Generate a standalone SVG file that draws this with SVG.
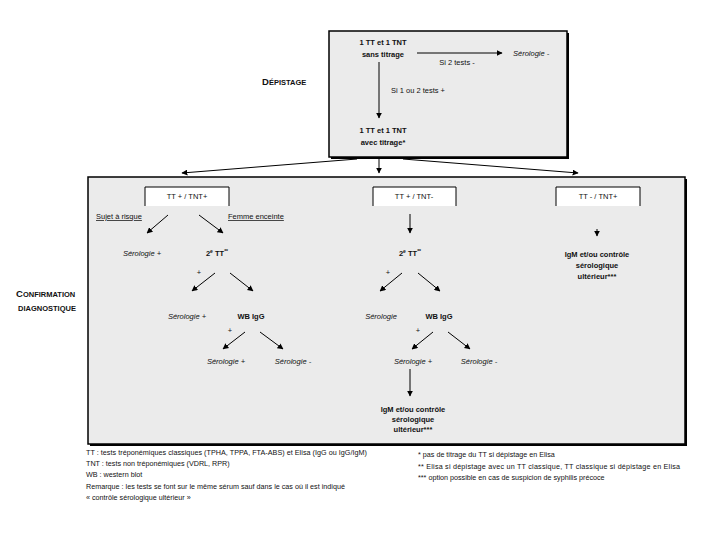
<svg xmlns="http://www.w3.org/2000/svg" width="720" height="540" viewBox="0 0 720 540">
<style>
text{font-family:"Liberation Sans",Arial,sans-serif;font-size:7.5px;fill:#111}
.b{font-weight:bold}
.i{font-style:italic}
.m{text-anchor:middle}
.u{text-decoration:underline}
.sc{font-weight:bold;font-size:7.5px}
.big{font-size:9.5px}
.fn{font-size:7.2px}
.ln{stroke:#000;stroke-width:1;fill:none}
.panel{fill:#ebebeb;stroke:#000;stroke-width:1.5}
.shadow{fill:#000}
</style>
<defs>
<marker id="ah" viewBox="0 0 10 10" refX="9" refY="5" markerWidth="6" markerHeight="6" markerUnits="userSpaceOnUse" orient="auto">
<path d="M0,0 L10,5 L0,10 z" fill="#000"/>
</marker>
</defs>
<rect width="720" height="540" fill="#fff"/>

<g id="depistage-label">
<text x="262" y="85" class="sc"><tspan class="big">D</tspan>ÉPISTAGE</text>
</g>
<g id="confirmation-label">
<text x="16" y="297" class="sc"><tspan class="big">C</tspan>ONFIRMATION</text>
<text x="18" y="311" class="sc">DIAGNOSTIQUE</text>
</g>

<g id="screening-box">
<rect x="331" y="33" width="238" height="126" class="shadow"/>
<rect x="329" y="31" width="238" height="126" class="panel"/>
</g>

<g id="confirmation-box">
<rect x="90" y="179" width="597" height="267" class="shadow"/>
<rect x="88" y="177" width="597" height="267" class="panel"/>
</g>

<g id="node-sans-titrage">
<text x="383" y="45" class="b m">1 TT et 1 TNT</text>
<text x="383" y="57" class="b m">sans titrage</text>
</g>
<g id="node-serologie-neg-top">
<text x="513" y="56" class="i">Sérologie -</text>
</g>
<g id="node-avec-titrage">
<text x="383" y="133" class="b m">1 TT et 1 TNT</text>
<text x="383" y="145" class="b m">avec titrage*</text>
</g>

<g id="node-tt-pos-tnt-pos">
<rect x="145" y="187" width="84" height="19" fill="#fff"/>
<path d="M145,206 V187 H229 V206" class="ln"/>
<text x="187" y="199" class="m">TT + / TNT+</text>
</g>
<g id="node-tt-pos-tnt-neg">
<rect x="373" y="187" width="83" height="19" fill="#fff"/>
<path d="M373,206 V187 H456 V206" class="ln"/>
<text x="414" y="199" class="m">TT + / TNT-</text>
</g>
<g id="node-tt-neg-tnt-pos">
<rect x="556" y="187" width="84" height="19" fill="#fff"/>
<path d="M556,206 V187 H640 V206" class="ln"/>
<text x="598" y="199" class="m">TT - / TNT+</text>
</g>

<g id="labels-left">
<text x="96" y="219" class="u">Sujet à risque</text>
<text x="228" y="219" class="u">Femme enceinte</text>
</g>
<g id="node-l-sero-pos">
<text x="142" y="256" class="i m">Sérologie +</text>
</g>
<g id="node-l-2tt">
<text x="217" y="256" class="b m">2<tspan font-size="5" dy="-3">e</tspan><tspan dy="3"> TT</tspan><tspan font-size="5" dy="-3">**</tspan></text>
</g>
<g id="node-l-sero-pos2">
<text x="187" y="319" class="i m">Sérologie +</text>
</g>
<g id="node-l-wb">
<text x="251" y="319" class="b m">WB IgG</text>
</g>
<g id="node-l-sero-pos3">
<text x="226" y="364" class="i m">Sérologie +</text>
</g>
<g id="node-l-sero-neg3">
<text x="293" y="364" class="i m">Sérologie -</text>
</g>

<g id="node-m-2tt">
<text x="410" y="256" class="b m">2<tspan font-size="5" dy="-3">e</tspan><tspan dy="3"> TT</tspan><tspan font-size="5" dy="-3">**</tspan></text>
</g>
<g id="node-m-sero">
<text x="381" y="319" class="i m">Sérologie</text>
</g>
<g id="node-m-wb">
<text x="439" y="319" class="b m">WB IgG</text>
</g>
<g id="node-m-sero-pos">
<text x="413" y="364" class="i m">Sérologie +</text>
</g>
<g id="node-m-sero-neg">
<text x="479" y="364" class="i m">Sérologie -</text>
</g>
<g id="node-m-igm">
<text x="413" y="412" class="b m">IgM et/ou contrôle</text>
<text x="413" y="422" class="b m">sérologique</text>
<text x="413" y="432" class="b m">ultérieur***</text>
</g>

<g id="node-r-igm">
<text x="597" y="257" class="b m">IgM et/ou contrôle</text>
<text x="597" y="268" class="b m">sérologique</text>
<text x="597" y="279" class="b m">ultérieur***</text>
</g>

<g id="connectors">
<line x1="417" y1="53" x2="502" y2="53" class="ln" marker-end="url(#ah)"/>
<line x1="379" y1="62" x2="379" y2="118" class="ln" marker-end="url(#ah)"/>
<line x1="357" y1="159" x2="182" y2="173" class="ln" marker-end="url(#ah)"/>
<line x1="379" y1="158" x2="379" y2="173" class="ln" marker-end="url(#ah)"/>
<line x1="403" y1="159" x2="578" y2="173" class="ln" marker-end="url(#ah)"/>

<line x1="168" y1="215" x2="147" y2="233" class="ln" marker-end="url(#ah)"/>
<line x1="199" y1="215" x2="223" y2="233" class="ln" marker-end="url(#ah)"/>
<line x1="215" y1="273" x2="192" y2="291" class="ln" marker-end="url(#ah)"/>
<line x1="230" y1="273" x2="253" y2="291" class="ln" marker-end="url(#ah)"/>
<line x1="245" y1="332" x2="223" y2="349" class="ln" marker-end="url(#ah)"/>
<line x1="260" y1="332" x2="283" y2="349" class="ln" marker-end="url(#ah)"/>

<line x1="410" y1="214" x2="410" y2="233" class="ln" marker-end="url(#ah)"/>
<line x1="402" y1="273" x2="380" y2="291" class="ln" marker-end="url(#ah)"/>
<line x1="418" y1="273" x2="440" y2="291" class="ln" marker-end="url(#ah)"/>
<line x1="433" y1="332" x2="412" y2="349" class="ln" marker-end="url(#ah)"/>
<line x1="448" y1="332" x2="470" y2="349" class="ln" marker-end="url(#ah)"/>
<line x1="410" y1="369" x2="410" y2="396" class="ln" marker-end="url(#ah)"/>

<line x1="597" y1="229" x2="597" y2="236" class="ln" marker-end="url(#ah)"/>

<text x="457" y="65" class="m">Si 2 tests -</text>
<text x="391" y="93">Si 1 ou 2 tests +</text>
<text x="199" y="275" class="m">+</text>
<text x="230" y="333" class="m">+</text>
<text x="388" y="275" class="m">+</text>
<text x="418" y="333" class="m">+</text>
</g>

<g id="footnotes">
<text x="86" y="455" class="fn" textLength="281">TT : tests tréponémiques classiques (TPHA, TPPA, FTA-ABS) et Elisa (IgG ou IgG/IgM)</text>
<text x="86" y="466" class="fn">TNT : tests non tréponémiques (VDRL, RPR)</text>
<text x="86" y="477" class="fn">WB : western blot</text>
<text x="86" y="489" class="fn">Remarque : les tests se font sur le même sérum sauf dans le cas où il est indiqué</text>
<text x="86" y="500" class="fn">« contrôle sérologique ultérieur »</text>
<text x="418" y="457" class="fn">* pas de titrage du TT si dépistage en Elisa</text>
<text x="418" y="469" class="fn" textLength="262">** Elisa si dépistage avec un TT classique, TT classique si dépistage en Elisa</text>
<text x="418" y="480" class="fn">*** option possible en cas de suspicion de syphilis précoce</text>
</g>
</svg>
